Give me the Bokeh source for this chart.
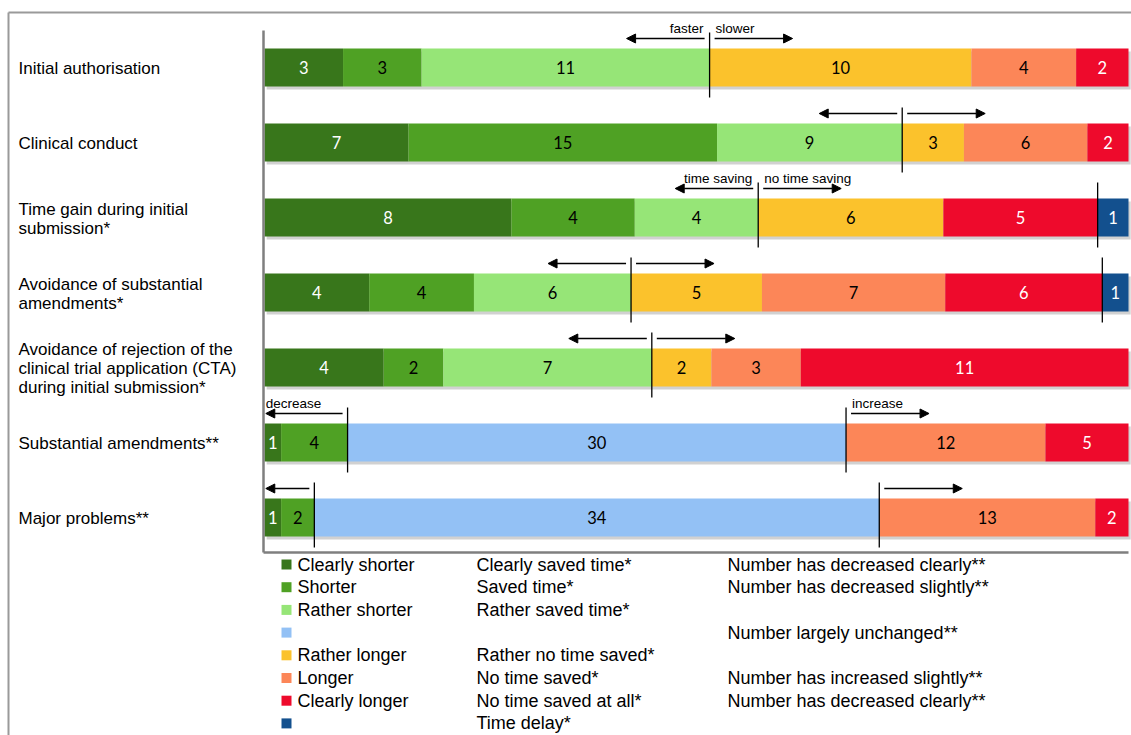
import numpy as np
from bokeh.plotting import figure
from bokeh.models import ColumnDataSource, Range1d, Arrow, NormalHead
from bokeh.core.properties import value
from bokeh.embed import file_html
from bokeh.resources import INLINE

# ---------------- data ----------------
categories = [
    "Initial authorisation",
    "Clinical conduct",
    "Time gain during initial\nsubmission*",
    "Avoidance of substantial\namendments*",
    "Avoidance of rejection of the\nclinical trial application (CTA)\nduring initial submission*",
    "Substantial amendments**",
    "Major problems**",
]

clearly_shorter = [3, 7, 8, 4, 4, 1, 1]
shorter = [3, 15, 4, 4, 2, 4, 2]
rather_shorter = [11, 9, 4, 6, 7, 0, 0]
unchanged = [0, 0, 0, 0, 0, 30, 34]
rather_longer = [10, 3, 6, 5, 2, 0, 0]
longer = [4, 6, 0, 7, 3, 12, 13]
clearly_longer = [2, 2, 5, 6, 11, 5, 2]
time_delay = [0, 0, 1, 1, 0, 0, 0]

left_words = ["faster", "", "time saving", "", "", "decrease", ""]
right_words = ["slower", "", "no time saving", "", "", "increase", ""]

legend_duration = ["Clearly shorter", "Shorter", "Rather shorter", "", "Rather longer",
                   "Longer", "Clearly longer", ""]
legend_saving = ["Clearly saved time*", "Saved time*", "Rather saved time*", "",
                 "Rather no time saved*", "No time saved*", "No time saved at all*", "Time delay*"]
legend_number = ["Number has decreased clearly**", "Number has decreased slightly**", "",
                 "Number largely unchanged**", "", "Number has increased slightly**",
                 "Number has decreased clearly**", ""]

series = [clearly_shorter, shorter, rather_shorter, unchanged, rather_longer,
          longer, clearly_longer, time_delay]
keys = ["cs", "s", "rs", "un", "rl", "l", "cl", "td"]
colors = ["#38761b", "#4fa124", "#96e577", "#93c1f5", "#fbc22c", "#fc8658", "#ee0a2c", "#13508e"]
text_colors = ["white", "black", "black", "black", "black", "black", "white", "white"]

# ---------------- geometry helpers (pixel layout -> data units) ----------------
W, H = 1131, 735
X0, XS = 264.0, 8.64      # px of 0 %, px per %
Y0, YS = 67.0, 75.0       # px of first row centre, px per row
def X(px): return (px - X0) / XS
def Y(py): return (py - Y0) / YS

p = figure(width=W, height=H, output_backend="svg", toolbar_location=None,
           x_range=Range1d(X(0), X(W)), y_range=Range1d(Y(H), Y(0)),
           x_axis_location=None, y_axis_location=None, min_border=0,
           outline_line_color=None, background_fill_color="white",
           border_fill_color="white")
p.grid.visible = False

n = len(categories)
rows = np.arange(n)
vals = np.array(series, dtype=float)          # (8, n)
totals = vals.sum(axis=0)
pct = vals / totals * 100.0
cum = np.cumsum(pct, axis=0)
starts = cum - pct

bar_h = 38 / YS

# shadow
p.hbar(y=rows + 3 / YS, left=0.25, right=100.25, height=bar_h, color="#9a9a9a",
       alpha=0.45, line_color=None)

src = ColumnDataSource({**{k: pct[i] for i, k in enumerate(keys)}, "row": rows})
p.hbar_stack(keys, y="row", height=bar_h, color=colors, line_color=None, source=src)

# segment numbers
tx, ty, tt, tc = [], [], [], []
for i in range(len(keys)):
    for r in range(n):
        if vals[i, r] > 0:
            tx.append(starts[i, r] + pct[i, r] / 2)
            ty.append(r)
            tt.append(str(int(vals[i, r])))
            tc.append(text_colors[i])
p.text(x=tx, y=ty, text=tt, text_color=tc, text_align="center", text_baseline="middle",
       text_font=value("Lato"), text_font_size="16.5px")

# frame lines
p.segment(x0=[X(8), X(8)], y0=[Y(12), Y(12)], x1=[X(W), X(8)], y1=[Y(12), Y(H)],
          line_color="#9a9a9a", line_width=2)
p.segment(x0=[X(263), X(263)], y0=[Y(30), Y(552)], x1=[X(263), X(1128)], y1=[Y(552), Y(552)],
          line_color="#7f7f7f", line_width=2.5)

# dividers, arrows and arrow captions
better = cum[2]                 # after clearly shorter + shorter + rather shorter
neutral_end = cum[3]            # after unchanged
delay_start = starts[7]
dx0, dy0, dx1, dy1 = [], [], [], []
for r in range(n):
    xs = {round(better[r], 6), round(neutral_end[r], 6)}
    if vals[7, r] > 0:
        xs.add(round(delay_start[r], 6))
    for xv in sorted(xs):
        dx0.append(xv); dx1.append(xv)
        dy0.append(r - 35 / YS); dy1.append(r + 30 / YS)
p.segment(x0=dx0, y0=dy0, x1=dx1, y1=dy1, line_color="black", line_width=1.3)

gap = 5 / XS
alen = 78 / XS
ay = rows - 29 / YS
la_start = better - gap
la_end = np.maximum(la_start - alen, 0.15)
ra_start = neutral_end + gap
ra_end = ra_start + alen
arr_src = ColumnDataSource(dict(
    x0=np.concatenate([la_start, ra_start]),
    x1=np.concatenate([la_end, ra_end]),
    y=np.concatenate([ay, ay])))
p.add_layout(Arrow(end=NormalHead(size=9, fill_color="black", line_color="black"),
                   x_start="x0", y_start="y", x_end="x1", y_end="y",
                   line_color="black", line_width=1.5, source=arr_src))

ty_cap = rows - 39 / YS
for r in range(n):
    if left_words[r]:
        clamped = la_start[r] - alen < 0.15
        p.text(x=[la_end[r] if clamped else better[r] - 6 / XS], y=[ty_cap[r]],
               text=[left_words[r]], text_align="left" if clamped else "right",
               text_baseline="middle", text_font=value("Liberation Sans"),
               text_font_size="13.5px", text_color="black")
    if right_words[r]:
        p.text(x=[neutral_end[r] + 6 / XS], y=[ty_cap[r]], text=[right_words[r]],
               text_align="left", text_baseline="middle",
               text_font=value("Liberation Sans"), text_font_size="13.5px",
               text_color="black")

# category labels
p.text(x=[X(18)] * n, y=rows + 1 / YS, text=categories, text_align="left",
       text_baseline="middle", text_font=value("Liberation Sans"), text_font_size="17px",
       text_color="black", text_line_height=1.0)

# legend
ly = Y(564) + np.arange(len(colors)) * (22.7 / YS)
p.rect(x=[X(286)] * len(colors), y=ly, width=10, height=10, width_units="screen",
       height_units="screen", color=colors, line_color=None)
for col_px, labels in [(297, legend_duration), (476, legend_saving), (727, legend_number)]:
    idx = [i for i, t in enumerate(labels) if t]
    p.text(x=[X(col_px)] * len(idx), y=ly[idx], text=[labels[i] for i in idx],
           text_align="left", text_baseline="middle", text_font=value("Liberation Sans"),
           text_font_size="18px", text_color="black")

open("out.html", "w").write(file_html(p, INLINE))
